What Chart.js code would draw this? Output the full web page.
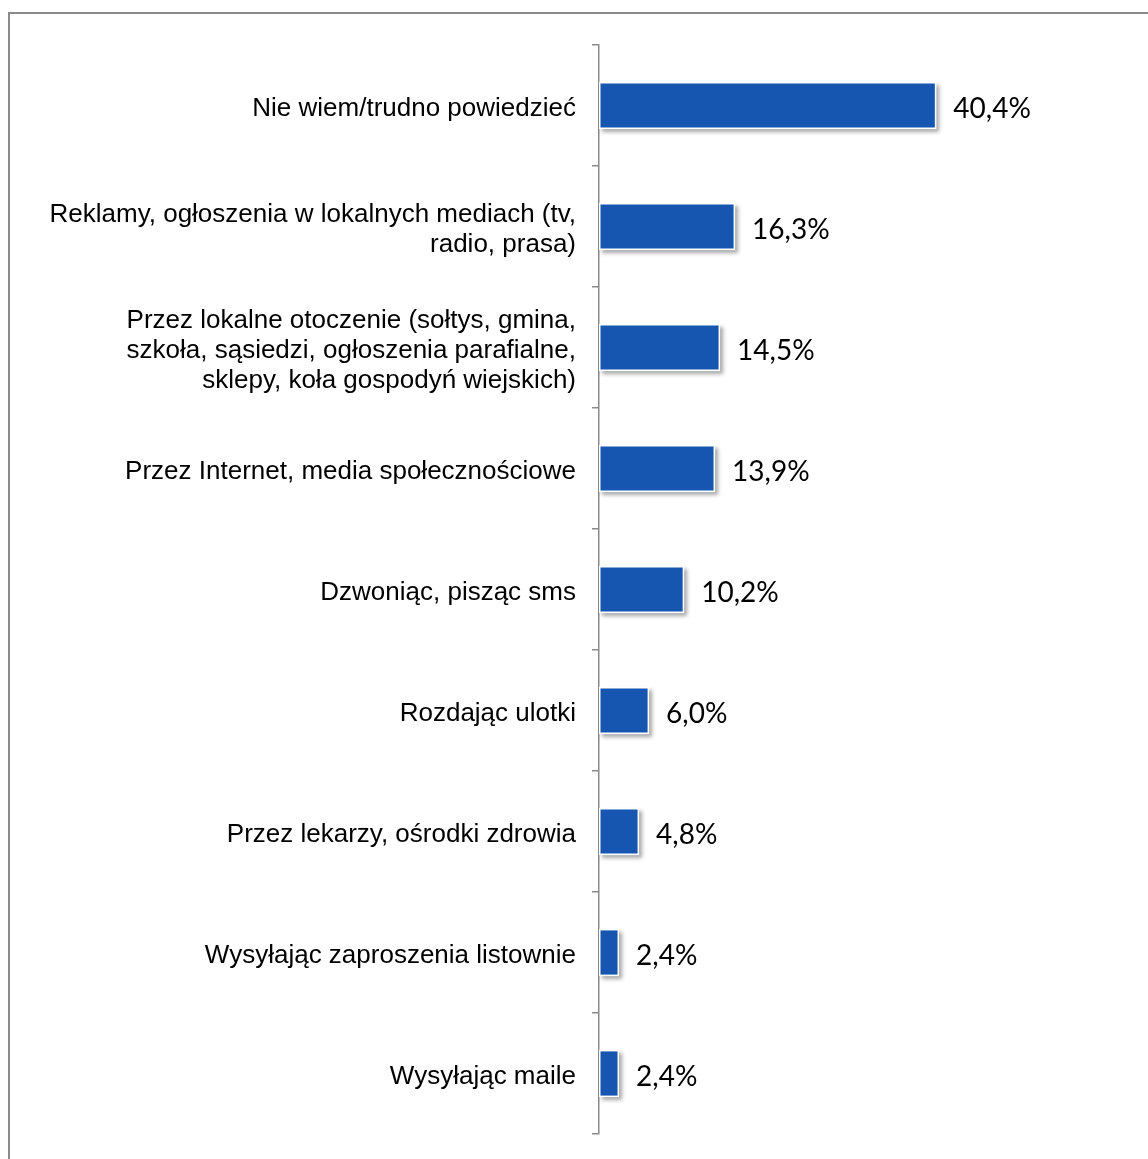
<!DOCTYPE html>
<html lang="pl">
<head>
<meta charset="utf-8">
<title>Wykres</title>
<script src="https://cdn.jsdelivr.net/npm/chart.js@4/dist/chart.umd.min.js"></script>
<style>
    html, body { margin: 0; padding: 0; background: #fff; overflow: hidden; }
    #frame {
        position: absolute; left: 8px; top: 12px;
        width: 1300px; height: 1300px;
        border: 2px solid #8a8a8a; box-sizing: border-box;
    }
    #wrap { position: absolute; left: 0; top: 0; width: 1148px; height: 1159px; }
</style>
</head>
<body>
<div id="frame"></div>
<div id="wrap"><canvas id="channelsChart"></canvas></div>
<script>
const categories = [
    'Nie wiem/trudno powiedzieć',
    ['Reklamy, ogłoszenia w lokalnych mediach (tv,', 'radio, prasa)'],
    ['Przez lokalne otoczenie (sołtys, gmina,', 'szkoła, sąsiedzi, ogłoszenia parafialne,', 'sklepy, koła gospodyń wiejskich)'],
    'Przez Internet, media społecznościowe',
    'Dzwoniąc, pisząc sms',
    'Rozdając ulotki',
    'Przez lekarzy, ośrodki zdrowia',
    'Wysyłając zaproszenia listownie',
    'Wysyłając maile'
];
const shares = [40.4, 16.3, 14.5, 13.9, 10.2, 6.0, 4.8, 2.4, 2.4];

const fmtPct = v => v.toFixed(1).replace('.', ',') + '%';

// soft shadow under each bar, drawn before the bars themselves
const barShadow = {
    id: 'barShadow',
    beforeDatasetsDraw(chart) {
        const ctx = chart.ctx;
        const meta = chart.getDatasetMeta(0);
        ctx.save();
        ctx.shadowColor = 'rgba(0,0,0,0.35)';
        ctx.shadowBlur = 4;
        ctx.shadowOffsetX = 3;
        ctx.shadowOffsetY = 3;
        ctx.fillStyle = '#ffffff';
        meta.data.forEach(bar => {
            const p = bar.getProps(['x', 'y', 'base', 'height'], true);
            ctx.fillRect(p.base, p.y - p.height / 2, p.x - p.base, p.height);
        });
        ctx.restore();
    }
};

// percentage text to the right of each bar
const valueLabels = {
    id: 'valueLabels',
    afterDatasetsDraw(chart) {
        const ctx = chart.ctx;
        const meta = chart.getDatasetMeta(0);
        ctx.save();
        ctx.font = '28px Lato, "Open Sans", sans-serif';
        ctx.fillStyle = '#000';
        ctx.textAlign = 'left';
        ctx.textBaseline = 'middle';
        meta.data.forEach((bar, i) => {
            const p = bar.getProps(['x', 'y'], true);
            ctx.fillText(fmtPct(shares[i]), p.x + 17, p.y + 3);
        });
        ctx.restore();
    }
};

new Chart(document.getElementById('channelsChart'), {
    type: 'bar',
    data: {
        labels: categories,
        datasets: [{
            data: shares,
            backgroundColor: '#1756b0',
            borderColor: '#ffffff',
            borderWidth: 1.5,
            borderSkipped: false,
            categoryPercentage: 1,
            barPercentage: 0.39
        }]
    },
    options: {
        indexAxis: 'y',
        responsive: true,
        maintainAspectRatio: false,
        animation: false,
        layout: { padding: { top: 45, bottom: 25, right: 48, left: 0 } },
        plugins: {
            legend: { display: false },
            tooltip: { enabled: false }
        },
        scales: {
            x: {
                display: false,
                min: 0,
                max: 60
            },
            y: {
                afterFit(scale) {
                    // fixed label column; labels never need extra vertical room
                    scale.width = 599;
                    scale.paddingTop = 0;
                    scale.paddingBottom = 0;
                },
                border: { display: true, color: '#8a8a8a', width: 1.5 },
                grid: {
                    offset: true,
                    drawOnChartArea: false,
                    drawTicks: true,
                    tickLength: 7,
                    color: '#8a8a8a',
                    lineWidth: 1.5
                },
                ticks: {
                    padding: 16,
                    labelOffset: 3,
                    color: '#000',
                    font: { family: 'Arial, "Liberation Sans", sans-serif', size: 26, lineHeight: 1.154 }
                }
            }
        }
    },
    plugins: [barShadow, valueLabels]
});
</script>
</body>
</html>
